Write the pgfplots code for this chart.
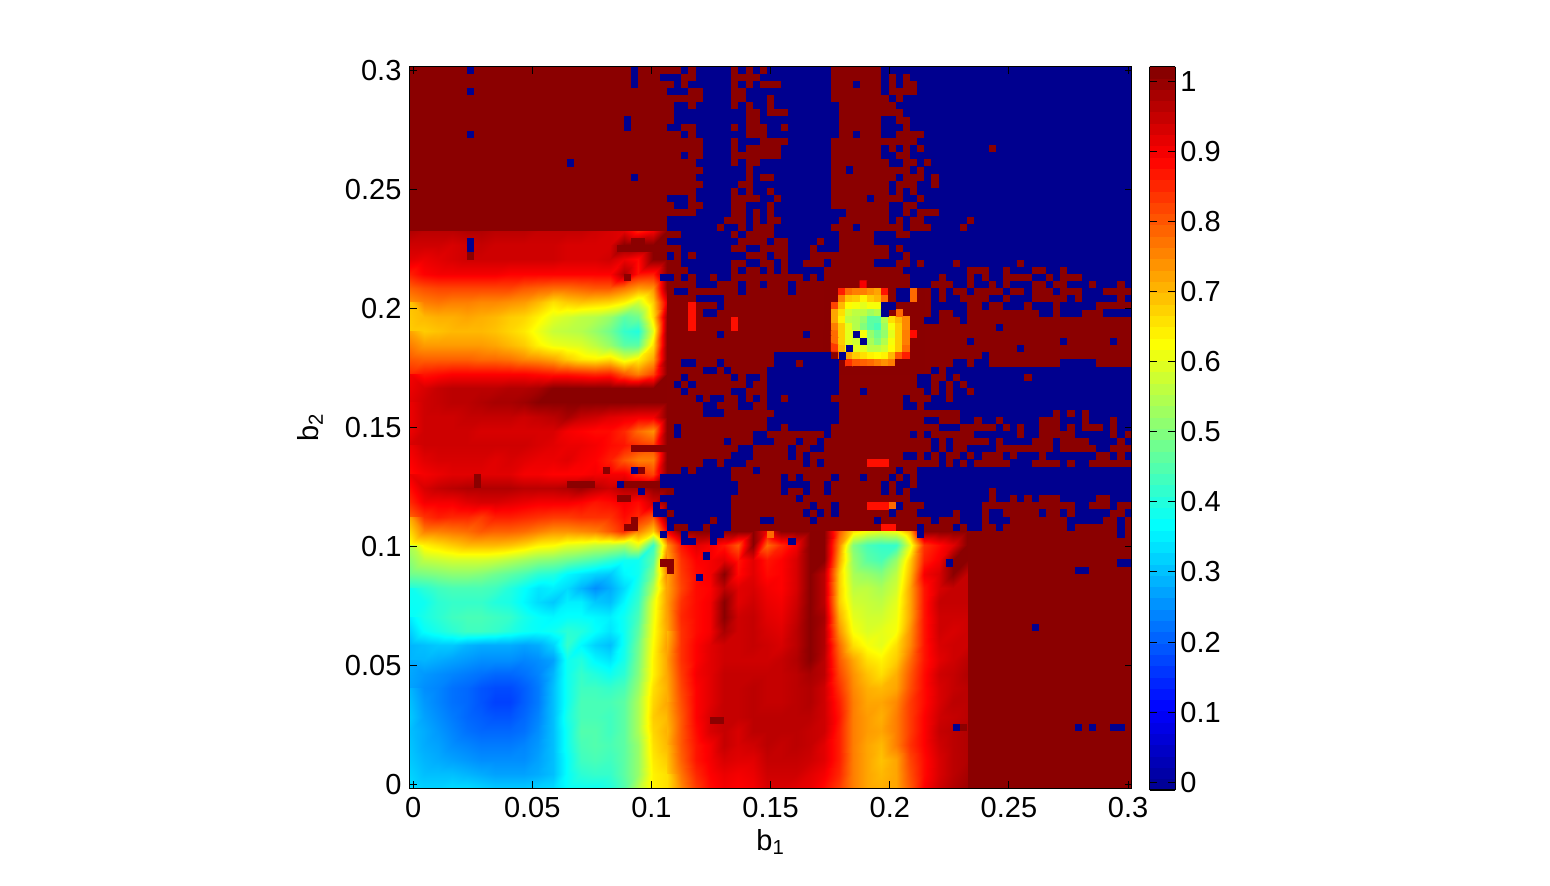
\documentclass[border=0pt]{standalone}
\usepackage{pgfplots}
\pgfplotsset{compat=1.18}
\usepackage{fontspec}
\setmainfont{Liberation Sans}
\definecolor{dred}{RGB}{139,0,0}
\definecolor{cblue}{RGB}{0,0,143}
\definecolor{hotred}{RGB}{255,15,0}
\definecolor{hotorange}{RGB}{255,105,0}
\pgfplotsset{colormap={mjet}{rgb255(0cm)=(0,0,143); rgb255(7cm)=(0,0,255); rgb255(23cm)=(0,255,255); rgb255(39cm)=(255,255,0); rgb255(55cm)=(255,0,0); rgb255(63cm)=(128,0,0)}}
\newcommand\lab{\fontsize{14.5}{16}\selectfont}
\begin{document}
\begin{tikzpicture}
\useasboundingbox (0,0) rectangle (775pt,442.5pt);
\begin{axis}[
 at={(204.75pt,48.4pt)},anchor=south west,scale only axis,
 width=361.1pt,height=360.85pt,
 xmin=-0.0015,xmax=0.3015,ymin=-0.0015,ymax=0.3015,
 axis background/.style={fill=dred},
 axis on top,
 axis line style={line width=0.55pt},
 tick style={line width=0.5pt,black},
 major tick length=3.6pt,tick align=inside,tick pos=both,
 xtick={0,0.05,0.1,0.15,0.2,0.25,0.3},ytick={0,0.05,0.1,0.15,0.2,0.25,0.3},
 xticklabels={0,0.05,0.1,0.15,0.2,0.25,0.3},yticklabels={0,0.05,0.1,0.15,0.2,0.25,0.3},
 tick label style={font=\lab},
 xticklabel style={yshift=-1pt},
 yticklabel style={xshift=-0.5pt},
 xlabel={b\textsubscript{1}},ylabel={b\textsubscript{2}},
 label style={font=\lab},
 xlabel style={at={(0.5,-0.047)},anchor=north},
 ylabel style={at={(-0.11,0.5)},anchor=south},
 colormap name=mjet,
 point meta min=-0.011,point meta max=1.0208,
 colorbar sampled,
 colorbar style={samples=65,at={(1.0249,-0.0025)},anchor=south west,
   width=12.85pt,height=361.7pt,
   ytick={0,0.1,0.2,0.3,0.4,0.5,0.6,0.7,0.8,0.9,1},
   yticklabels={0,0.1,0.2,0.3,0.4,0.5,0.6,0.7,0.8,0.9,1},
   tick align=inside,ytick pos=both,yticklabel pos=right,
   major tick length=3.6pt,
   tick style={line width=0.5pt,black},
   axis line style={line width=0.55pt},
   yticklabel style={font=\lab,xshift=-1pt}},
]
% left block
\addplot[surf,shader=interp,mesh/cols=19,point meta=\thisrowno{0}*0.01] table[row sep=\\,header=false,
 x expr={(-0.5+2*mod(\coordindex,19))*0.003},y expr={(77.5-2*floor(\coordindex/19))*0.003}] {
97\\96\\96\\96\\97\\97\\96\\96\\96\\95\\95\\95\\95\\94\\93\\92\\86\\90\\101\\
94\\94\\94\\93\\94\\95\\94\\94\\94\\94\\94\\93\\93\\93\\93\\101\\101\\101\\101\\
92\\91\\92\\93\\94\\94\\94\\94\\94\\94\\94\\93\\93\\93\\94\\91\\88\\101\\101\\
86\\89\\90\\90\\90\\90\\90\\89\\89\\89\\89\\89\\89\\89\\89\\97\\87\\86\\101\\
79\\81\\82\\82\\82\\82\\82\\82\\80\\79\\78\\78\\79\\80\\80\\77\\73\\74\\101\\
74\\76\\77\\76\\76\\75\\75\\74\\73\\70\\66\\68\\69\\68\\67\\64\\58\\68\\92\\
69\\70\\71\\71\\72\\71\\70\\68\\67\\64\\60\\58\\56\\55\\52\\46\\48\\66\\100\\
68\\68\\69\\70\\70\\70\\69\\67\\65\\61\\57\\56\\55\\52\\48\\42\\40\\60\\101\\
72\\73\\73\\73\\73\\73\\72\\70\\68\\64\\61\\60\\59\\56\\52\\46\\46\\66\\101\\
80\\79\\79\\79\\79\\78\\78\\77\\75\\74\\72\\68\\65\\64\\66\\60\\64\\72\\101\\
85\\87\\88\\89\\89\\89\\89\\89\\89\\88\\87\\87\\86\\85\\86\\80\\76\\82\\101\\
90\\93\\95\\96\\96\\96\\96\\97\\97\\98\\101\\101\\101\\101\\101\\101\\101\\101\\101\\
92\\94\\95\\96\\96\\97\\98\\98\\99\\101\\101\\101\\101\\101\\101\\101\\101\\101\\101\\
91\\94\\94\\94\\95\\95\\95\\95\\94\\95\\96\\98\\95\\94\\92\\91\\90\\90\\101\\
91\\94\\94\\94\\94\\93\\93\\93\\93\\93\\93\\90\\89\\88\\88\\85\\78\\74\\101\\
93\\94\\94\\94\\94\\94\\94\\94\\94\\93\\92\\91\\91\\90\\88\\87\\84\\82\\101\\
91\\92\\93\\93\\93\\93\\92\\93\\92\\91\\91\\92\\90\\89\\86\\80\\76\\76\\101\\
88\\90\\91\\92\\92\\92\\92\\92\\90\\90\\89\\89\\89\\90\\90\\90\\85\\82\\101\\
91\\93\\95\\96\\97\\97\\97\\97\\96\\96\\96\\97\\99\\96\\94\\97\\97\\100\\101\\
85\\90\\90\\90\\92\\93\\93\\92\\91\\90\\90\\90\\89\\87\\88\\90\\88\\94\\101\\
79\\84\\86\\85\\85\\83\\86\\86\\85\\84\\83\\83\\84\\84\\84\\88\\85\\80\\101\\
72\\76\\76\\77\\78\\80\\79\\79\\78\\76\\74\\74\\75\\76\\80\\85\\76\\68\\90\\
62\\64\\66\\68\\70\\70\\70\\69\\67\\64\\63\\60\\59\\57\\56\\54\\60\\42\\72\\
55\\56\\57\\58\\58\\58\\57\\55\\53\\51\\50\\48\\46\\44\\41\\38\\38\\46\\80\\
48\\49\\50\\51\\51\\50\\48\\46\\44\\41\\40\\36\\34\\32\\31\\36\\38\\50\\76\\
40\\41\\43\\44\\44\\44\\43\\40\\37\\34\\35\\33\\29\\25\\28\\33\\40\\55\\73\\
38\\38\\41\\42\\42\\42\\40\\39\\36\\33\\31\\35\\35\\31\\30\\36\\42\\60\\73\\
37\\39\\41\\43\\44\\44\\43\\42\\39\\37\\36\\37\\37\\36\\35\\38\\44\\61\\73\\
35\\37\\39\\41\\43\\43\\42\\40\\38\\37\\38\\41\\40\\37\\34\\38\\46\\62\\72\\
29\\30\\31\\31\\29\\28\\28\\28\\27\\28\\32\\42\\36\\32\\30\\38\\48\\63\\73\\
29\\29\\28\\27\\26\\25\\25\\25\\24\\25\\27\\38\\40\\36\\34\\39\\49\\64\\72\\
28\\26\\25\\24\\23\\22\\21\\21\\22\\24\\29\\38\\42\\40\\38\\41\\50\\64\\72\\
27\\25\\24\\22\\21\\19\\18\\18\\20\\23\\30\\38\\43\\43\\42\\44\\52\\66\\71\\
29\\26\\24\\22\\21\\19\\17\\17\\20\\23\\30\\38\\44\\44\\44\\46\\54\\67\\72\\
31\\27\\25\\23\\21\\20\\19\\19\\21\\24\\30\\39\\44\\44\\43\\46\\54\\68\\70\\
30\\28\\26\\24\\22\\21\\21\\21\\22\\25\\30\\38\\45\\45\\43\\46\\54\\67\\71\\
30\\28\\27\\25\\24\\23\\23\\23\\24\\26\\30\\38\\44\\45\\44\\46\\52\\66\\70\\
31\\29\\28\\27\\26\\25\\25\\25\\25\\27\\30\\37\\43\\44\\43\\46\\52\\65\\68\\
31\\30\\30\\30\\29\\28\\27\\27\\27\\28\\30\\37\\41\\42\\42\\46\\52\\64\\66\\
33\\32\\32\\33\\33\\32\\31\\31\\31\\32\\33\\37\\38\\38\\40\\45\\55\\64\\66\\
};
% bottom block
\addplot[surf,shader=interp,mesh/cols=22,point meta=\thisrowno{0}*0.01] table[row sep=\\,header=false,
 x expr={(35.5+2*mod(\coordindex,22))*0.003},y expr={(35.5-2*floor(\coordindex/22))*0.003}] {
90\\101\\101\\101\\101\\101\\101\\90\\101\\101\\101\\101\\80\\66\\62\\60\\62\\72\\101\\101\\101\\101\\
74\\87\\92\\90\\87\\80\\101\\78\\85\\90\\101\\101\\75\\50\\44\\42\\42\\60\\84\\88\\92\\101\\
72\\84\\89\\90\\92\\87\\92\\87\\89\\93\\101\\101\\72\\52\\46\\44\\52\\68\\86\\90\\101\\101\\
72\\83\\88\\90\\101\\88\\92\\88\\89\\93\\101\\96\\68\\54\\52\\50\\56\\70\\90\\93\\101\\95\\
72\\82\\88\\89\\96\\92\\93\\90\\89\\93\\101\\96\\68\\56\\56\\54\\58\\72\\87\\93\\95\\95\\
73\\84\\88\\90\\101\\92\\94\\91\\90\\94\\101\\96\\68\\58\\57\\56\\60\\72\\87\\95\\95\\95\\
73\\85\\88\\90\\101\\94\\95\\92\\91\\95\\101\\98\\71\\60\\58\\58\\61\\72\\87\\94\\94\\94\\
72\\84\\88\\90\\98\\94\\95\\93\\92\\96\\101\\97\\74\\62\\59\\60\\62\\74\\87\\94\\93\\94\\
70\\84\\89\\92\\94\\94\\95\\94\\93\\96\\101\\97\\78\\66\\62\\60\\66\\75\\87\\93\\94\\94\\
73\\84\\89\\92\\94\\94\\94\\94\\95\\97\\101\\96\\80\\72\\66\\64\\68\\78\\87\\92\\94\\96\\
72\\83\\90\\92\\95\\95\\95\\95\\95\\96\\98\\96\\82\\74\\69\\66\\71\\80\\88\\94\\95\\97\\
72\\82\\89\\92\\95\\95\\96\\95\\95\\96\\97\\94\\84\\75\\71\\70\\72\\81\\88\\93\\95\\96\\
71\\81\\89\\92\\95\\95\\96\\95\\95\\96\\97\\94\\86\\76\\72\\72\\75\\83\\88\\93\\96\\96\\
72\\80\\89\\93\\95\\95\\96\\96\\96\\96\\96\\94\\87\\76\\73\\71\\76\\83\\89\\94\\95\\96\\
70\\80\\88\\93\\95\\93\\96\\96\\96\\96\\95\\94\\86\\76\\73\\72\\76\\83\\89\\95\\96\\97\\
71\\80\\87\\90\\95\\93\\94\\96\\95\\96\\95\\92\\86\\76\\72\\70\\76\\84\\89\\94\\96\\97\\
70\\79\\87\\90\\93\\92\\92\\95\\95\\95\\94\\92\\86\\76\\72\\69\\72\\82\\88\\93\\96\\97\\
68\\77\\85\\89\\91\\90\\91\\94\\94\\94\\92\\90\\85\\76\\72\\70\\72\\81\\88\\93\\96\\98\\
66\\75\\83\\88\\90\\89\\90\\93\\93\\92\\91\\88\\83\\76\\72\\71\\72\\80\\89\\94\\97\\99\\
66\\75\\83\\88\\90\\89\\90\\93\\93\\92\\91\\88\\83\\76\\72\\71\\72\\80\\89\\94\\97\\99\\
};
% island
\addplot[matrix plot*,mesh/cols=14,point meta=\thisrowno{0}*0.01] table[row sep=\\,header=false,
 x expr={(58+mod(\coordindex,14))*0.003},y expr={(70-floor(\coordindex/14))*0.003}] {
101\\101\\101\\101\\101\\90\\101\\101\\101\\101\\101\\101\\101\\101\\
101\\101\\86\\78\\76\\76\\74\\72\\87\\101\\101\\101\\101\\101\\
101\\101\\76\\69\\68\\64\\68\\70\\78\\101\\101\\101\\101\\101\\
101\\82\\70\\63\\62\\60\\62\\62\\80\\101\\101\\101\\101\\101\\
101\\72\\66\\58\\56\\56\\53\\55\\62\\101\\101\\101\\101\\101\\
101\\72\\64\\56\\55\\52\\46\\46\\55\\66\\70\\75\\101\\101\\
101\\76\\68\\60\\55\\50\\46\\44\\53\\62\\68\\75\\101\\101\\
101\\78\\68\\60\\60\\62\\52\\48\\52\\60\\68\\76\\88\\101\\
101\\78\\68\\60\\58\\56\\54\\50\\55\\62\\68\\76\\101\\101\\
101\\83\\70\\62\\60\\60\\56\\56\\58\\63\\68\\78\\101\\101\\
101\\101\\78\\72\\68\\66\\64\\63\\64\\70\\80\\86\\101\\101\\
101\\101\\101\\84\\80\\79\\78\\76\\74\\76\\101\\101\\101\\101\\
101\\101\\101\\101\\101\\101\\101\\101\\101\\101\\101\\101\\101\\101\\
};
% dark red cells over the smooth blocks: first column, last column, row from the top
\addplot[quiver={u={(\thisrowno{1}-\thisrowno{0}+1)*0.003},v=0},draw=dred,line width=3.65pt,line cap=butt] table[row sep=\\,header=false,
 x expr={(\thisrowno{0}-0.5)*0.003},y expr={(100-\thisrowno{2})*0.003}] {
31 32 24\\29 35 25\\8 8 26\\30 30 29\\31 35 53\\27 27 56\\32 32 56\\9 9 57\\9 9 58\\22 25 58\\30 34 58\\29 30 60\\31 31 63\\30 31 64\\35 36 69\\36 36 70\\42 43 91\\77 77 92\\79 80 92\\
};
% bright cells
\addplot[quiver={u={(\thisrowno{1}-\thisrowno{0}+1)*0.003},v=0},draw=hotred,line width=3.65pt,line cap=butt] table[row sep=\\,header=false,
 x expr={(\thisrowno{0}-0.5)*0.003},y expr={(100-\thisrowno{2})*0.003}] {
39 39 33\\39 39 34\\39 39 35\\39 39 36\\45 45 35\\45 45 36\\64 66 55\\64 66 61\\66 67 64\\
};
\addplot[quiver={u={(\thisrowno{1}-\thisrowno{0}+1)*0.003},v=0},draw=hotorange,line width=3.65pt,line cap=butt] table[row sep=\\,header=false,
 x expr={(\thisrowno{0}-0.5)*0.003},y expr={(100-\thisrowno{2})*0.003}] {
70 70 31\\70 70 32\\68 68 34\\50 50 65\\67 67 61\\
};
% blue cells
\addplot[quiver={u={(\thisrowno{1}-\thisrowno{0}+1)*0.003},v=0},draw=cblue,line width=3.65pt,line cap=butt] table[row sep=\\,header=false,
 x expr={(\thisrowno{0}-0.5)*0.003},y expr={(100-\thisrowno{2})*0.003}] {
8 8 0\\31 31 0\\38 38 0\\40 44 0\\46 46 0\\48 48 0\\50 58 0\\66 100 0\\
31 31 1\\35 37 1\\40 44 1\\49 58 1\\66 66 1\\68 68 1\\70 100 1\\
31 31 2\\37 37 2\\39 44 2\\46 46 2\\48 48 2\\52 58 2\\62 62 2\\66 66 2\\68 68 2\\71 100 2\\
8 8 3\\36 38 3\\41 44 3\\47 58 3\\66 66 3\\71 100 3\\
41 44 4\\47 49 4\\51 58 4\\67 67 4\\69 100 4\\
37 38 5\\40 44 5\\46 46 5\\48 49 5\\51 59 5\\68 100 5\\
37 46 6\\49 49 6\\53 59 6\\69 100 6\\
30 30 7\\37 46 7\\49 59 7\\66 67 7\\70 100 7\\
30 30 8\\36 37 8\\40 44 8\\46 46 8\\50 51 8\\53 59 8\\66 68 8\\70 100 8\\
8 8 9\\38 38 9\\40 46 9\\50 59 9\\62 62 9\\66 67 9\\72 100 9\\
41 44 10\\46 48 10\\53 58 10\\71 100 10\\
41 44 11\\46 46 11\\52 58 11\\66 66 11\\68 68 11\\70 70 11\\72 80 11\\82 100 11\\
38 38 12\\41 44 12\\52 58 12\\66 67 12\\70 100 12\\
22 22 13\\40 44 13\\46 46 13\\49 58 13\\67 68 13\\71 71 13\\73 100 13\\
41 46 14\\48 58 14\\61 61 14\\70 70 14\\72 100 14\\
31 31 15\\40 46 15\\48 48 15\\51 58 15\\68 68 15\\72 72 15\\74 100 15\\
41 45 16\\48 58 16\\67 67 16\\71 72 16\\74 100 16\\
40 44 17\\46 46 17\\48 49 17\\51 58 17\\67 67 17\\69 69 17\\71 100 17\\
36 38 18\\40 44 18\\49 50 18\\52 58 18\\64 64 18\\69 70 18\\72 100 18\\
37 38 19\\41 44 19\\47 49 19\\51 58 19\\67 68 19\\71 100 19\\
40 44 20\\47 47 20\\49 49 20\\51 60 20\\67 68 20\\70 70 20\\74 100 20\\
36 43 21\\47 47 21\\49 49 21\\52 59 21\\67 67 21\\69 69 21\\72 77 21\\79 100 21\\
36 42 22\\44 45 22\\47 47 22\\51 58 22\\62 62 22\\69 69 22\\73 76 22\\78 100 22\\
38 44 23\\46 46 23\\51 59 23\\65 67 23\\70 100 23\\
8 8 24\\36 45 24\\50 50 24\\53 56 24\\58 59 24\\65 100 24\\
8 8 25\\38 44 25\\47 48 25\\53 55 25\\57 59 25\\67 67 25\\69 100 25\\
36 36 26\\38 38 26\\40 46 26\\50 50 26\\53 55 26\\67 68 26\\70 100 26\\
38 44 27\\47 48 27\\51 51 27\\53 54 27\\58 58 27\\65 67 27\\70 70 27\\72 75 27\\77 84 27\\86 100 27\\
39 44 28\\46 46 28\\49 49 28\\51 51 28\\53 57 28\\69 77 28\\81 82 28\\84 86 28\\89 90 28\\92 100 28\\
35 36 29\\38 38 29\\40 41 29\\43 44 29\\55 55 29\\57 57 29\\70 73 29\\75 77 29\\79 79 29\\81 82 29\\87 88 29\\90 90 29\\94 100 29\\
40 42 30\\46 46 30\\49 49 30\\53 53 30\\70 72 30\\76 77 30\\79 80 30\\82 82 30\\84 86 30\\89 89 30\\92 94 30\\96 98 30\\100 100 30\\
37 38 31\\46 46 31\\53 53 31\\68 69 31\\73 73 31\\75 75 31\\78 78 31\\83 83 31\\86 86 31\\90 90 31\\94 96 31\\
40 43 32\\68 69 32\\73 73 32\\75 76 32\\81 82 32\\84 86 32\\92 92 32\\94 98 32\\100 100 32\\
43 43 33\\66 67 33\\73 77 33\\80 80 33\\83 85 33\\87 89 33\\91 95 33\\
41 42 34\\66 66 34\\73 73 34\\76 77 34\\88 89 34\\91 93 34\\97 100 34\\
72 73 35\\77 77 35\\
82 82 36\\
43 43 37\\55 55 37\\62 62 37\\
63 63 38\\78 78 38\\91 91 38\\98 98 38\\
61 61 39\\85 85 39\\
51 58 40\\60 60 40\\80 80 40\\
38 39 41\\43 43 41\\51 53 41\\55 59 41\\76 77 41\\79 80 41\\91 95 41\\
41 42 42\\44 44 42\\50 59 42\\73 73 42\\75 100 42\\
38 38 43\\45 45 43\\47 48 43\\50 59 43\\71 72 43\\75 75 43\\77 85 43\\87 100 43\\
37 37 44\\39 39 44\\47 47 44\\50 59 44\\71 72 44\\74 74 44\\76 76 44\\78 100 44\\
38 38 45\\45 46 45\\50 59 45\\63 63 45\\72 72 45\\74 74 45\\76 77 45\\79 100 45\\
40 40 46\\42 43 46\\46 46 46\\48 48 46\\50 51 46\\53 58 46\\69 69 46\\73 74 46\\76 100 46\\
41 42 47\\46 47 47\\50 59 47\\69 70 47\\72 100 47\\
41 43 48\\51 59 48\\77 89 48\\91 91 48\\93 93 48\\95 100 48\\
50 59 49\\72 73 49\\77 78 49\\80 81 49\\83 87 49\\91 93 49\\95 97 49\\99 100 49\\
37 37 50\\50 51 50\\53 58 50\\74 76 50\\82 82 50\\84 84 50\\86 87 50\\91 91 50\\93 93 50\\97 97 50\\99 100 50\\
37 37 51\\48 49 51\\58 58 51\\70 70 51\\72 72 51\\79 84 51\\86 87 51\\93 97 51\\99 99 51\\
44 44 52\\48 50 52\\54 54 52\\57 57 52\\73 73 52\\75 75 52\\81 81 52\\83 86 52\\90 90 52\\95 98 52\\100 100 52\\
46 47 53\\53 53 53\\56 57 53\\73 73 53\\75 75 53\\78 81 53\\90 90 53\\96 97 53\\
45 47 54\\53 53 54\\55 55 54\\69 70 54\\72 72 54\\74 74 54\\77 77 54\\79 79 54\\83 83 54\\85 87 54\\89 95 54\\98 98 54\\100 100 54\\
41 42 55\\44 46 55\\55 55 55\\57 57 55\\74 74 55\\76 76 55\\78 78 55\\84 86 55\\91 91 55\\93 94 55\\
31 31 56\\38 38 56\\40 44 56\\48 48 56\\68 68 56\\71 100 56\\
35 44 57\\52 52 57\\54 54 57\\59 59 57\\63 63 57\\67 67 57\\69 69 57\\71 100 57\\
29 29 58\\35 45 58\\52 55 58\\58 58 58\\66 66 58\\68 69 58\\71 100 58\\
32 32 59\\37 45 59\\52 52 59\\55 55 59\\58 58 59\\66 66 59\\68 68 59\\70 80 59\\82 100 59\\
35 44 60\\54 54 60\\70 80 60\\82 83 60\\85 85 60\\87 87 60\\91 95 60\\98 100 60\\
34 34 61\\36 44 61\\56 56 61\\59 59 61\\68 68 61\\72 79 61\\93 94 61\\98 98 61\\
34 35 62\\37 44 62\\55 55 62\\57 57 62\\59 59 62\\67 67 62\\71 75 62\\77 79 62\\81 82 62\\88 88 62\\91 91 62\\93 97 62\\100 100 62\\
36 41 63\\43 44 63\\49 50 63\\56 56 63\\65 65 63\\73 73 63\\77 79 63\\81 83 63\\92 96 63\\99 99 63\\
36 36 64\\39 40 64\\42 44 64\\71 71 64\\76 76 64\\78 79 64\\82 82 64\\92 92 64\\99 99 64\\
35 35 65\\38 38 65\\42 43 65\\71 71 65\\99 99 65\\
38 39 66\\42 42 66\\53 53 66\\
41 41 68\\75 75 69\\99 100 69\\93 94 70\\40 40 71\\87 87 78\\76 76 92\\93 93 92\\95 95 92\\98 99 92\\
};
\end{axis}
\end{tikzpicture}
\end{document}
